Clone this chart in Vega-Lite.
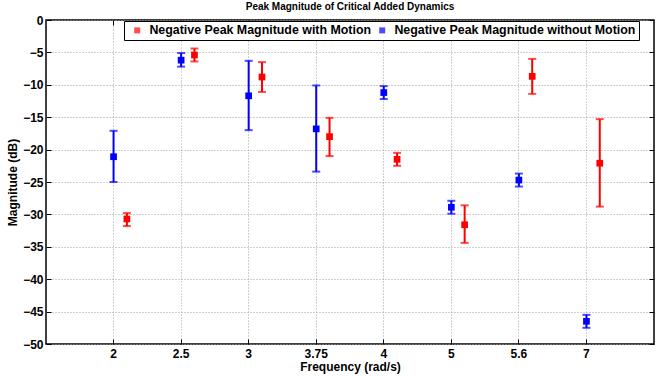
{
  "$schema": "https://vega.github.io/schema/vega-lite/v6.json",
  "width": 608,
  "height": 324,
  "autosize": {"type": "none"},
  "padding": {"left": 46, "top": 20, "right": 2, "bottom": 32},
  "config": {
    "font": "Liberation Sans",
    "view": {"stroke": "black", "strokeWidth": 1.5},
    "axis": {
      "labelFont": "Liberation Sans",
      "labelFontWeight": "bold",
      "labelFontSize": 12,
      "labelColor": "black",
      "titleFont": "Liberation Sans",
      "titleFontWeight": "bold",
      "titleFontSize": 12,
      "titleColor": "black",
      "domain": false,
      "tickColor": "black",
      "tickWidth": 1,
      "gridColor": "#a0a0a0",
      "gridDash": [1, 2],
      "gridWidth": 1,
      "gridOpacity": 1
    },
    "legend": {
      "orient": "none",
      "legendX": 78,
      "legendY": 1,
      "direction": "horizontal",
      "strokeColor": "black",
      "fillColor": "white",
      "padding": 3,
      "symbolType": "square",
      "symbolSize": 36,
      "symbolStrokeWidth": 0,
      "symbolOffset": 4,
      "labelFont": "Liberation Sans",
      "labelFontSize": 12.4,
      "labelFontWeight": "bold",
      "labelColor": "black",
      "labelOffset": 6,
      "columnPadding": 0,
      "labelLimit": 400
    }
  },
  "title": {
    "text": "Peak Magnitude of Critical Added Dynamics",
    "font": "Liberation Sans",
    "fontSize": 10,
    "fontWeight": "bold",
    "color": "black",
    "anchor": "middle",
    "offset": 2
  },
  "data": {
    "values": [
      {"freq": "2", "series": "Negative Peak Magnitude without Motion", "mag": -21.1, "lo": -25.0, "hi": -17.1},
      {"freq": "2", "series": "Negative Peak Magnitude with Motion", "mag": -30.7, "lo": -31.8, "hi": -29.8},
      {"freq": "2.5", "series": "Negative Peak Magnitude without Motion", "mag": -6.2, "lo": -7.2, "hi": -5.1},
      {"freq": "2.5", "series": "Negative Peak Magnitude with Motion", "mag": -5.4, "lo": -6.4, "hi": -4.4},
      {"freq": "3", "series": "Negative Peak Magnitude without Motion", "mag": -11.7, "lo": -17.0, "hi": -6.3},
      {"freq": "3", "series": "Negative Peak Magnitude with Motion", "mag": -8.8, "lo": -11.1, "hi": -6.5},
      {"freq": "3.75", "series": "Negative Peak Magnitude without Motion", "mag": -16.8, "lo": -23.4, "hi": -10.1},
      {"freq": "3.75", "series": "Negative Peak Magnitude with Motion", "mag": -18.0, "lo": -21.0, "hi": -15.1},
      {"freq": "4", "series": "Negative Peak Magnitude without Motion", "mag": -11.2, "lo": -12.2, "hi": -10.2},
      {"freq": "4", "series": "Negative Peak Magnitude with Motion", "mag": -21.5, "lo": -22.5, "hi": -20.5},
      {"freq": "5", "series": "Negative Peak Magnitude without Motion", "mag": -28.9, "lo": -29.9, "hi": -27.9},
      {"freq": "5", "series": "Negative Peak Magnitude with Motion", "mag": -31.6, "lo": -34.4, "hi": -28.6},
      {"freq": "5.6", "series": "Negative Peak Magnitude without Motion", "mag": -24.7, "lo": -25.7, "hi": -23.7},
      {"freq": "5.6", "series": "Negative Peak Magnitude with Motion", "mag": -8.7, "lo": -11.4, "hi": -6.0},
      {"freq": "7", "series": "Negative Peak Magnitude without Motion", "mag": -46.5, "lo": -47.5, "hi": -45.5},
      {"freq": "7", "series": "Negative Peak Magnitude with Motion", "mag": -22.1, "lo": -28.8, "hi": -15.3}
    ]
  },
  "resolve": {"axis": {"x": "independent", "y": "independent"}},
  "layer": [
    {
      "mark": {"type": "rule", "strokeWidth": 2},
      "encoding": {
        "x": {
          "field": "freq", "type": "ordinal",
          "sort": ["2", "2.5", "3", "3.75", "4", "5", "5.6", "7"],
          "scale": {"type": "band", "paddingInner": 0, "paddingOuter": 0.5},
          "axis": {"title": "Frequency (rad/s)", "labelAngle": 0, "bandPosition": 0.5, "grid": true, "tickSize": -5, "labelPadding": 9, "titlePadding": 2}
        },
        "xOffset": {
          "field": "series",
          "scale": {"type": "point", "domain": ["Negative Peak Magnitude without Motion", "Negative Peak Magnitude with Motion"], "range": [33.78, 47.1], "padding": 0}
        },
        "y": {
          "field": "lo", "type": "quantitative",
          "scale": {"domain": [-50, 0], "nice": false},
          "axis": {"title": "Magnitude (dB)", "values": [-50, -45, -40, -35, -30, -25, -20, -15, -10, -5, 0], "grid": true, "tickSize": -5, "labelPadding": 8, "titlePadding": 3}
        },
        "y2": {"field": "hi"},
        "color": {
          "field": "series", "type": "nominal",
          "scale": {"domain": ["Negative Peak Magnitude with Motion", "Negative Peak Magnitude without Motion"], "range": ["#ff0000", "#0000ff"]},
          "legend": {"title": null}
        }
      }
    },
    {
      "mark": {"type": "tick", "thickness": 2, "size": 8},
      "encoding": {
        "x": {"field": "freq", "type": "ordinal", "sort": ["2", "2.5", "3", "3.75", "4", "5", "5.6", "7"], "axis": null},
        "xOffset": {"field": "series"},
        "y": {"field": "lo", "type": "quantitative", "axis": null},
        "color": {"field": "series", "type": "nominal"}
      }
    },
    {
      "mark": {"type": "tick", "thickness": 2, "size": 8},
      "encoding": {
        "x": {"field": "freq", "type": "ordinal", "sort": ["2", "2.5", "3", "3.75", "4", "5", "5.6", "7"], "axis": null},
        "xOffset": {"field": "series"},
        "y": {"field": "hi", "type": "quantitative", "axis": null},
        "color": {"field": "series", "type": "nominal"}
      }
    },
    {
      "mark": {"type": "point", "shape": "square", "filled": true, "size": 45, "opacity": 1},
      "encoding": {
        "x": {
          "field": "freq", "type": "ordinal", "sort": ["2", "2.5", "3", "3.75", "4", "5", "5.6", "7"],
          "axis": {"orient": "top", "title": null, "labels": false, "grid": false, "bandPosition": 0.5, "tickSize": -5}
        },
        "xOffset": {"field": "series"},
        "y": {
          "field": "mag", "type": "quantitative",
          "axis": {"orient": "right", "title": null, "labels": false, "grid": false, "values": [-50, -45, -40, -35, -30, -25, -20, -15, -10, -5, 0], "tickSize": -5}
        },
        "color": {"field": "series", "type": "nominal"}
      }
    }
  ]
}
